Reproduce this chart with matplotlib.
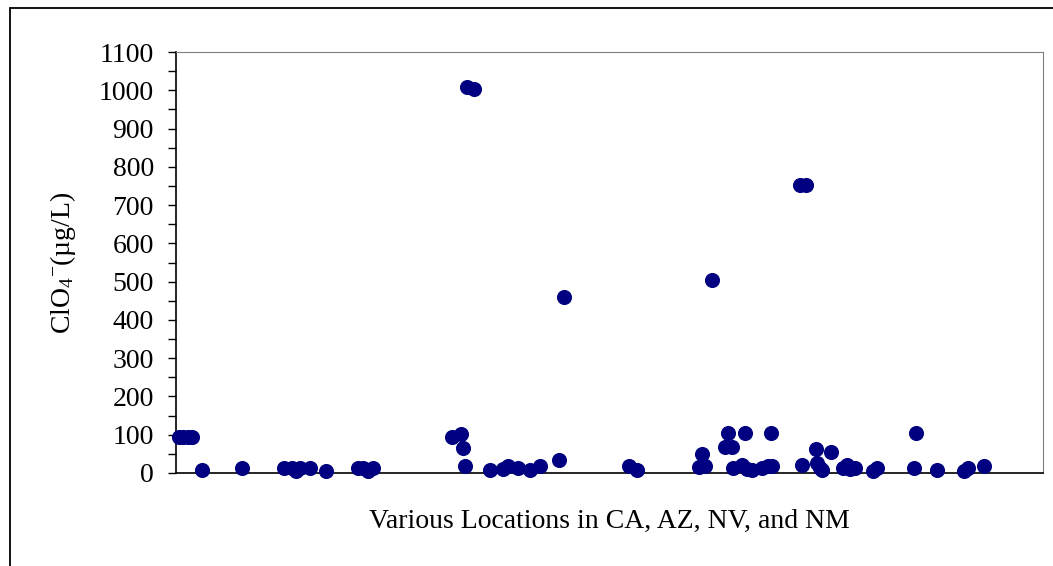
import numpy as np
import matplotlib.pyplot as plt
from matplotlib.patches import Rectangle

# site position along the x axis (arbitrary location units, 0-100)
site = [0.3, 0.8, 1.4, 1.8, 3.0, 7.6, 12.5, 13.4, 13.8, 14.3, 15.5, 17.3,
        21.0, 21.6, 22.1, 22.7, 31.8, 32.9, 33.1, 33.3, 33.6, 34.4, 36.2, 37.7,
        38.3, 39.4, 40.8, 42.0, 44.2, 44.8, 52.2, 53.2, 60.3, 60.7, 61.0, 61.8,
        63.3, 63.7, 64.1, 64.2, 65.3, 65.6, 65.9, 66.4, 67.6, 68.3, 68.6, 68.7,
        72.0, 72.7, 72.2, 73.8, 73.9, 74.3, 74.5, 75.6, 76.9, 77.4, 77.7, 78.3,
        80.4, 80.9, 85.1, 85.3, 87.8, 90.9, 91.3, 93.2]

# perchlorate concentration (ug/L)
clo4 = [93, 93, 93, 93, 8, 13, 13, 13, 5, 13, 13, 4,
        13, 12, 6, 12, 93, 102, 66, 18, 1008, 1003, 8, 10,
        17, 14, 8, 18, 34, 460, 18, 9, 16, 50, 17, 503,
        68, 104, 68, 14, 20, 104, 11, 8, 14, 18, 104, 18,
        752, 752, 22, 64, 26, 14, 8, 54, 12, 20, 10, 14,
        6, 12, 14, 104, 9, 4, 14, 18]

plt.rcParams['font.family'] = ['Liberation Serif', 'DejaVu Serif']
plt.rcParams['mathtext.fontset'] = 'custom'
plt.rcParams['mathtext.rm'] = 'Liberation Serif'
plt.rcParams['mathtext.it'] = 'Liberation Serif'

fig = plt.figure(figsize=(10.53, 5.66), dpi=100)
ax = fig.add_axes([176/1053, 1 - 473/566, 867/1053, 421/566])

ax.scatter(site, clo4, s=118, color='#000080', linewidths=0, zorder=3, clip_on=False)

ax.set_xlim(0, 100)
ax.set_ylim(0, 1100)
ax.set_yticks(np.arange(0, 1101, 100))
ax.set_yticks(np.arange(50, 1100, 100), minor=True)
ax.set_xticks([])
ax.tick_params(axis='y', which='both', direction='out', length=6, width=1,
               labelsize=20, pad=10)

for s in ['top', 'right']:
    ax.spines[s].set_color('#808080')
for s in ['left', 'bottom']:
    ax.spines[s].set_color('black')
    ax.spines[s].set_linewidth(1.2)

ax.set_ylabel(r'ClO$_4$$^{-}$(µg/L)', fontsize=20)
ax.yaxis.set_label_coords(-0.113, 0.5)
ax.set_xlabel('Various Locations in CA, AZ, NV, and NM', fontsize=20, labelpad=26)

# outer chart border (cut off at right and bottom)
fig.patches.append(Rectangle((10/1053, -0.05), 1.1, 1 - 8/566 + 0.05,
                             transform=fig.transFigure, fill=False,
                             edgecolor='black', linewidth=1.3))

fig.savefig('out.png', dpi=100)
